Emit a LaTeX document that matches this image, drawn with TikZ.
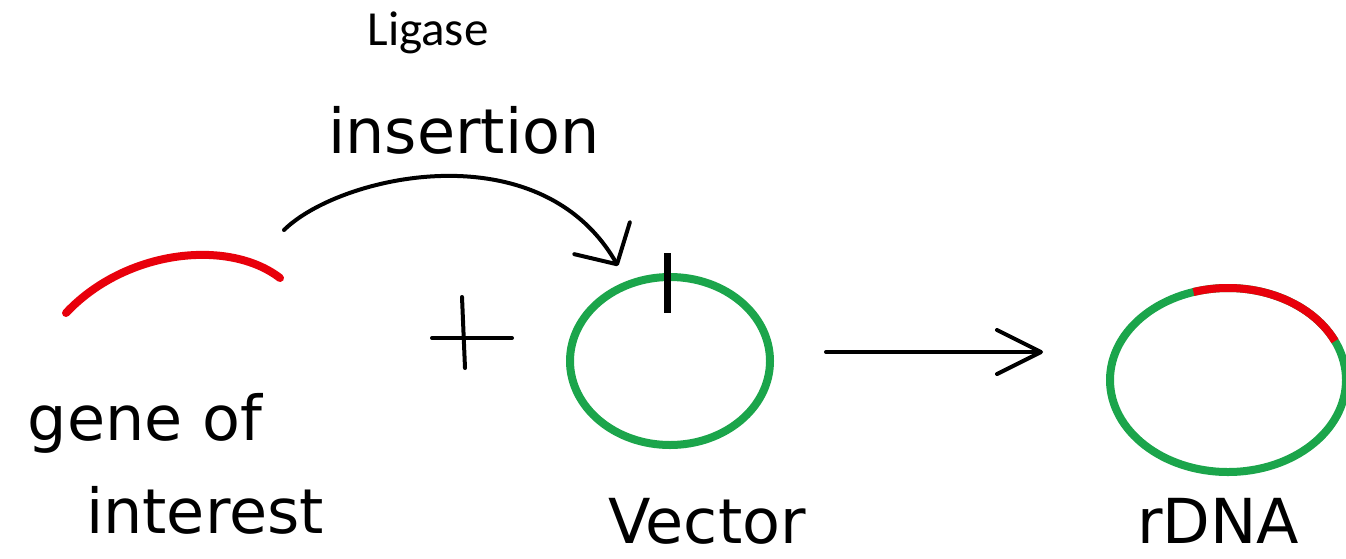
\documentclass[tikz,border=0pt]{standalone}
\usepackage{fontspec}
\setmainfont{Carlito}
\newfontfamily\handfont{DejaVu Sans}
\usetikzlibrary{arrows.meta,positioning,shapes.geometric}
\definecolor{plasgreen}{HTML}{1BA54B}
\definecolor{genered}{HTML}{E8000B}
\tikzset{
  strand/.style={draw=genered,line width=8pt,line cap=round},
  ring/.style={ellipse,draw=plasgreen,line width=8pt,inner sep=0pt},
  hand/.style={font=\handfont\fontsize{62}{70}\selectfont,inner sep=0pt,anchor=base},
  pen/.style={draw=black,line width=4pt,line cap=round,line join=round},
  bentarrow/.style={pen,-{Straight Barb[length=30pt,width=64pt,round]}},
  arrow/.style={pen,-{Straight Barb[length=44pt,width=44pt,round]}}
}

\begin{document}
\begin{tikzpicture}[x=1pt,y=1pt]
\useasboundingbox (0,0) rectangle (1346,-558);
\node[font=\fontsize{49}{58}\selectfont,inner sep=0pt,anchor=base] (ligase) at (428,-45) {Ligase};
\node[hand] (insertion) at (464,-153) {insertion};
% gene of interest
\coordinate (geneL) at (66,-313);
\coordinate (geneR) at (280,-278);
\draw[strand] (geneL) .. controls (125,-250) and (228,-238) .. (geneR);
\node[hand] (geneof) at (145,-440) {gene of};
\node[hand] (interest) at (205,-533) {interest};
\draw[pen] (432,-338) -- (512,-338);
\draw[pen] (462,-297) -- (465,-368);
% vector
\node[ring,minimum width=200pt,minimum height=168pt] (vector) at (670,-361) {};
\draw[line width=7pt] (667,-253) -- (667,-313);
\node[hand] (vectorlbl) at (707,-543) {Vector};
\coordinate (insstart) at (284,-230);
\coordinate (instip) at ([xshift=-52pt,yshift=7pt]vector.north);
\draw[bentarrow] (insstart) .. controls (340,-175) and (540,-130) .. (instip);
% rDNA
\node[ring,minimum width=236pt,minimum height=184pt] (rdna) at (1228,-380) {};
\draw[draw=genered,line width=8pt] (1334.9,-341.1) arc[start angle=25,end angle=107,x radius=118,y radius=92];
\node[hand] (rdnalbl) at (1218,-543) {rDNA};
\coordinate (reactstart) at ([xshift=52pt,yshift=9pt]vector.east);
\coordinate (reactend) at ([xshift=-63pt]rdna.west |- reactstart);
\draw[arrow] (reactstart) -- (reactend);
\end{tikzpicture}
\end{document}
